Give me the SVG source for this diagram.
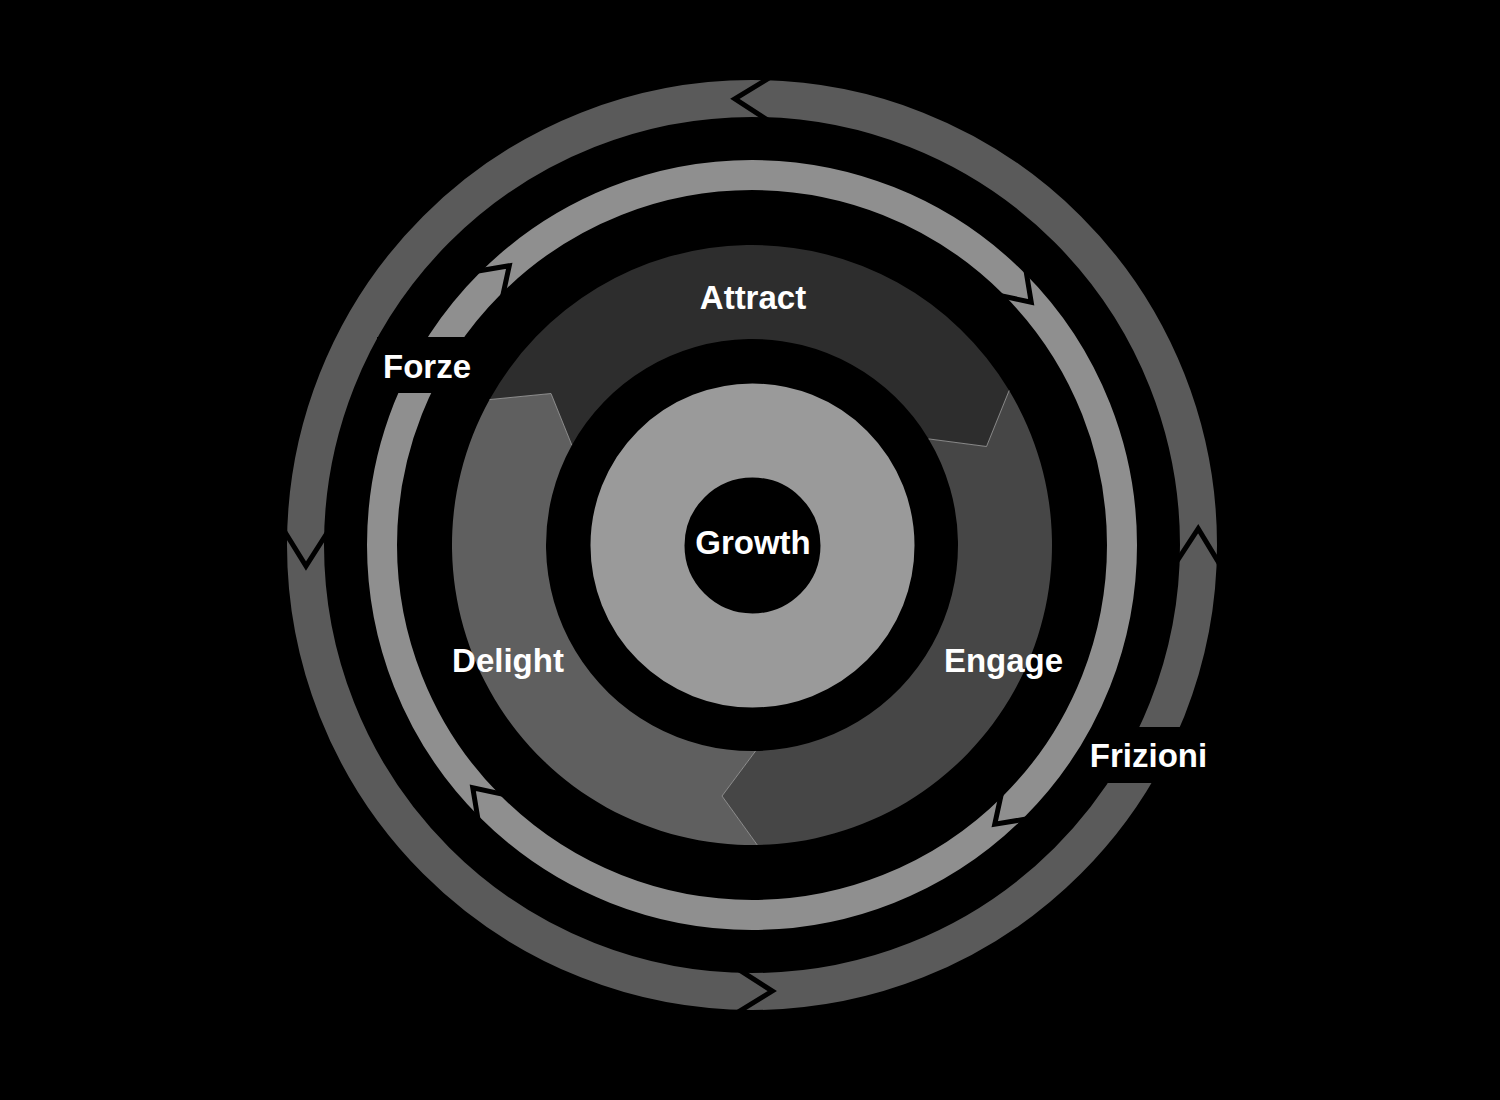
<svg xmlns="http://www.w3.org/2000/svg" xmlns:xlink="http://www.w3.org/1999/xlink" width="1500" height="1100" viewBox="0 0 1500 1100">
  <style>
    .lbl { font-family: "Liberation Sans", Arial, sans-serif; font-weight: bold; font-size: 33px; fill: #ffffff; text-anchor: middle; }
    .sep { fill: none; stroke: #000000; stroke-width: 5; stroke-linejoin: miter; stroke-miterlimit: 10; }
    .edge { fill: none; stroke: #a0a0a0; stroke-width: 1; stroke-opacity: 0.8; }
  </style>
  <defs>
    <polyline id="lsep" class="sep" points="390.91,-8.19 369.31,22.59 348.90,-8.53"/>
    <polyline id="osep" class="sep" points="469.93,8.20 445.52,-29.59 422.94,7.38"/>
  </defs>
  <rect x="0" y="0" width="1500" height="1100" fill="#000000"/>

  <g id="connectors">
    <g id="frizioni-ring">
      <circle cx="752" cy="545" r="446.5" fill="none" stroke="#5a5a5a" stroke-width="37"/>
      <use xlink:href="#osep" href="#osep" transform="translate(752 545) rotate(1.7)"/>
      <use xlink:href="#osep" href="#osep" transform="translate(752 545) rotate(91.2)"/>
      <use xlink:href="#osep" href="#osep" transform="translate(752 545) rotate(181.1)"/>
      <use xlink:href="#osep" href="#osep" transform="translate(752 545) rotate(271.6)"/>
    </g>
    <g id="forze-ring">
      <circle cx="752" cy="545" r="370" fill="none" stroke="#8f8f8f" stroke-width="30"/>
      <use xlink:href="#lsep" href="#lsep" transform="translate(752 545) rotate(45.5)"/>
      <use xlink:href="#lsep" href="#lsep" transform="translate(752 545) rotate(135.5)"/>
      <use xlink:href="#lsep" href="#lsep" transform="translate(752 545) rotate(225.5)"/>
      <use xlink:href="#lsep" href="#lsep" transform="translate(752 545) rotate(315.5)"/>
    </g>
  </g>

  <g id="attract">
    <path d="M 489.61,399.56 A 300 300 0 0 1 1009.15,390.49 L 986.5,446.5 L 928.58,438.90 A 206 206 0 0 0 571.83,445.13 L 551,393.5 Z" fill="#2d2d2d"/>
    <text class="lbl" x="753" y="309">Attract</text>
  </g>
  <g id="engage">
    <path d="M 1009.15,390.49 A 300 300 0 0 1 757.24,844.95 L 722,796 L 755.60,750.97 A 206 206 0 0 0 928.58,438.90 L 986.5,446.5 Z" fill="#464646"/>
    <text class="lbl" x="1003.5" y="672">Engage</text>
  </g>
  <g id="delight">
    <path d="M 757.24,844.95 A 300 300 0 0 1 489.61,399.56 L 551,393.5 L 571.83,445.13 A 206 206 0 0 0 755.60,750.97 L 722,796 Z" fill="#5f5f5f"/>
    <text class="lbl" x="508" y="672">Delight</text>
  </g>
  <g id="segment-edges">
    <polyline class="edge" points="1009.15,390.49 986.5,446.5 928.58,438.90"/>
    <polyline class="edge" points="757.24,844.95 722,796 755.60,750.97"/>
    <polyline class="edge" points="489.61,399.56 551,393.5 571.83,445.13"/>
  </g>

  <g id="growth">
    <circle cx="752.5" cy="545.5" r="115" fill="none" stroke="#9a9a9a" stroke-width="94"/>
    <text class="lbl" x="753" y="554">Growth</text>
  </g>

  <g id="forze">
    <rect x="377" y="337" width="101" height="56" fill="#000000"/>
    <text class="lbl" x="427" y="378">Forze</text>
  </g>
  <g id="frizioni">
    <rect x="1093" y="727" width="120" height="56" fill="#000000"/>
    <text class="lbl" x="1148.5" y="767">Frizioni</text>
  </g>
</svg>
